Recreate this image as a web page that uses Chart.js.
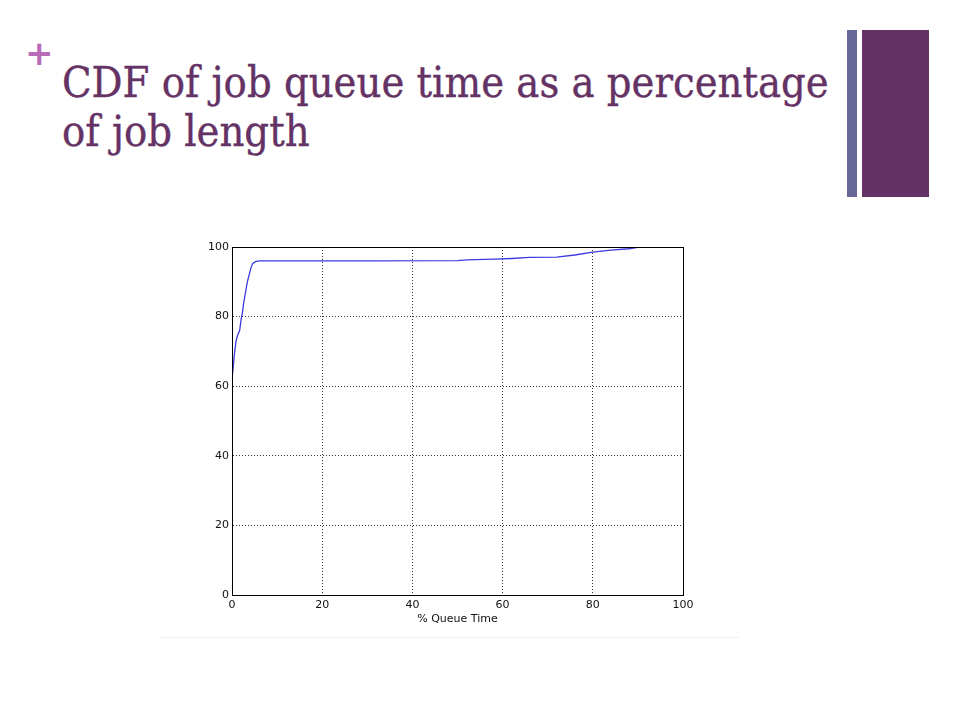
<!DOCTYPE html>
<html>
<head>
<meta charset="utf-8">
<script src="https://cdn.jsdelivr.net/npm/chart.js@4"></script>
<style>
  html, body { margin:0; padding:0; background:#fff; }
  body { width:960px; height:720px; position:relative; overflow:hidden; }
  #plus { position:absolute; left:25px; top:36px; font-family:"DejaVu Sans", sans-serif; font-weight:bold; font-size:34px; color:#b86cb8; line-height:1; }
  #title { position:absolute; left:62px; top:58px; font-family:"DejaVu Serif Condensed","DejaVu Serif",serif; font-size:43px; line-height:49px; color:#643264; white-space:nowrap; -webkit-text-stroke:0.35px #643264; }
  #bar1 { position:absolute; left:847px; top:30px; width:10px; height:167px; background:#666699; }
  #bar2 { position:absolute; left:862px; top:30px; width:67px; height:167px; background:#643264; }
  #wrap { position:absolute; left:180px; top:237px; width:540px; height:400px; }
  #edge { position:absolute; left:160px; top:637px; width:580px; height:1px; background:#f2f2f2; }
</style>
</head>
<body>
<div id="plus">+</div>
<div id="title">CDF of job queue time as a percentage<br>of job length</div>
<div id="bar1"></div>
<div id="bar2"></div>
<div id="edge"></div>
<div id="wrap"><canvas id="c" width="540" height="400"></canvas></div>
<script>
const queueTimePct = [0, 0.05, 0.1, 0.3, 0.6, 0.9, 1.2, 1.7, 2.0, 2.3, 2.6, 3.0, 3.4, 3.8, 4.2, 4.6, 5.2, 6, 30, 50, 52, 58, 62, 66, 72, 76, 80, 84, 88, 90, 91];
const cdfPct =       [42, 58, 63, 66, 70, 73, 74.5, 76, 79, 81, 84, 87, 90, 92, 94, 95.3, 95.8, 96, 96, 96.1, 96.3, 96.5, 96.7, 97, 97.1, 97.7, 98.5, 99.1, 99.5, 99.9, 100];
const xTicks = [0, 20, 40, 60, 80, 100];
const yTicks = [0, 20, 40, 60, 80, 100];
const xLabel = "% Queue Time";

const points = queueTimePct.map((x, i) => ({x: x, y: cdfPct[i]}));

const frame = {
  id: 'frame',
  afterDraw(chart) {
    const {ctx, chartArea: a} = chart;
    ctx.save();
    ctx.strokeStyle = '#000';
    ctx.lineWidth = 1;
    ctx.strokeRect(a.left + 0.5, a.top + 0.5, a.right - a.left, a.bottom - a.top);
    ctx.restore();
  }
};

const tickFont = {family: '"DejaVu Sans", sans-serif', size: 11};
new Chart(document.getElementById('c'), {
  type: 'scatter',
  data: {
    datasets: [{
      data: points,
      showLine: true,
      borderColor: '#3a3ae0',
      borderWidth: 1.3,
      pointRadius: 0,
      fill: false,
      tension: 0
    }]
  },
  options: {
    responsive: false,
    animation: false,
    devicePixelRatio: 1,
    layout: {padding: {left: 0, right: 37, top: 10, bottom: 0}},
    plugins: {legend: {display: false}, tooltip: {enabled: false}},
    scales: {
      x: {
        type: 'linear', min: 0, max: 100,
        afterBuildTicks: s => { s.ticks = xTicks.map(v => ({value: v})); },
        afterFit: s => { s.height = 42; },
        ticks: {font: tickFont, color: '#111', padding: 4, maxRotation: 0},
        grid: {color: '#333', lineWidth: 1, drawTicks: false},
        border: {color: '#000', dash: [1, 2]},
        title: {display: true, text: xLabel, font: tickFont, color: '#111', padding: {top: 0, bottom: 11}}
      },
      y: {
        type: 'linear', min: 0, max: 100,
        afterBuildTicks: s => { s.ticks = yTicks.map(v => ({value: v})); },
        afterFit: s => { s.width = 52; },
        ticks: {font: tickFont, color: '#111', padding: 3},
        grid: {color: '#333', lineWidth: 1, drawTicks: false},
        border: {color: '#000', dash: [1, 2]}
      }
    }
  },
  plugins: [frame]
});
</script>
</body>
</html>
